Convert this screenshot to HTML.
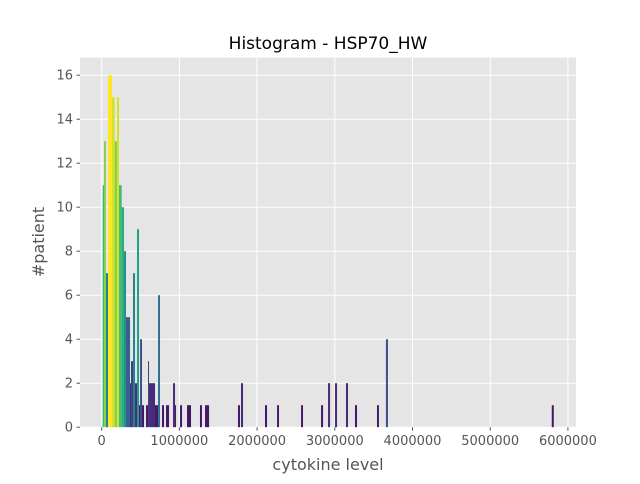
<!DOCTYPE html>
<html><head><meta charset="utf-8"><style>
body{margin:0;background:#fff;font-family:"DejaVu Sans","Liberation Sans",sans-serif}
svg text{font-family:"DejaVu Sans","Liberation Sans",sans-serif}
</style></head><body>
<svg id="chart" width="640" height="480" xmlns="http://www.w3.org/2000/svg">
<rect width="640" height="480" fill="#fff"/>
<rect x="80" y="57.6" width="496" height="369.6" fill="#e5e5e5"/>
<g id="grid"></g>
<g id="bars"></g>
<g id="axes"></g>
<text x="328" y="49" text-anchor="middle" font-size="17" fill="#000">Histogram - HSP70_HW</text>
<text x="328" y="470" text-anchor="middle" font-size="16" fill="#555">cytokine level</text>
<text x="44" y="242" text-anchor="middle" font-size="16" fill="#555" transform="rotate(-90 44 242)">#patient</text>
</svg>
<script>
const binLeft=[12870,30030,55770,81510,132990,167310,197340,223080,257400,287430,313170,364650,377520,403260,429000,454740,480480,493350,519090,570570,596310,609180,686400,725010,776490,827970,918060,943800,1008150,1098240,1265000,1330000,1754000,1793000,2102000,2257000,2566000,2823000,2913000,3003000,3144000,3260000,3543000,3658000,5792000];
const binRight=[30030,55770,81510,132990,167310,197340,223080,257400,287430,313170,364650,377520,403260,429000,454740,480480,493350,519090,544830,596310,609180,686400,725010,750750,802230,866580,943800,956670,1033890,1149720,1291000,1382000,1780000,1819000,2128000,2282000,2591000,2849000,2939000,3029000,3170000,3286000,3568000,3684000,5818000];
const counts=[11,13,7,16,15,13,15,11,10,8,5,2,3,7,2,9,1,4,1,1,3,2,1,6,1,1,2,1,1,1,1,1,1,2,1,1,1,1,2,2,2,1,1,4,1];
const xTicks=[0,1000000,2000000,3000000,4000000,5000000,6000000];
const yTicks=[0,2,4,6,8,10,12,14,16];
const X0=80,X1=576,Y0=427.2,Y1=57.6,xmin=-279000,xmax=6104000,ymin=0,ymax=16.8;
const xs=v=>X0+(v-xmin)/(xmax-xmin)*(X1-X0);
const ys=v=>Y0-(v-ymin)/(ymax-ymin)*(Y0-Y1);
const NS="http://www.w3.org/2000/svg";
const vir=[[68,1,84],[72,40,120],[62,74,137],[49,104,142],[38,130,142],[31,158,137],[53,183,121],[109,205,89],[180,222,44],[253,231,37]];
function viridis(t){t=Math.max(0,Math.min(1,t))*(vir.length-1);const i=Math.min(Math.floor(t),vir.length-2),f=t-i;
const c=vir[i].map((a,k)=>Math.round(a+(vir[i+1][k]-a)*f));return `rgb(${c.join(',')})`;}
const grid=document.getElementById('grid'),bars=document.getElementById('bars'),axes=document.getElementById('axes');
function mk(tag,at,parent){const e=document.createElementNS(NS,tag);for(const k in at)e.setAttribute(k,at[k]);parent.appendChild(e);return e;}
xTicks.forEach(t=>{const x=xs(t);
const g=mk('line',{x1:x,x2:x,y1:Y1,y2:Y0,stroke:'#fff','stroke-width':1},grid);


const tk=mk('line',{x1:x,x2:x,y1:Y0,y2:Y0+3.5,stroke:'#555','stroke-width':1},axes);


const tx=mk('text',{x:x,y:Y0+18,'text-anchor':'middle','font-size':13,fill:'#555'},axes);
tx.textContent=t;

});
yTicks.forEach(t=>{const y=ys(t);
const g=mk('line',{x1:X0,x2:X1,y1:y,y2:y,stroke:'#fff','stroke-width':1},grid);


const tk=mk('line',{x1:X0-3.5,x2:X0,y1:y,y2:y,stroke:'#555','stroke-width':1},axes);


const tx=mk('text',{x:X0-7,y:y+4.5,'text-anchor':'end','font-size':13,fill:'#555'},axes);
tx.textContent=t;

});
counts.forEach((c,i)=>{const x0=xs(binLeft[i]),x1=xs(binRight[i]);
const r=mk('rect',{x:x0,y:ys(c),width:Math.max(1,x1-x0),height:ys(0)-ys(c),fill:viridis(c/16)},bars);

});
</script>
</body></html>
